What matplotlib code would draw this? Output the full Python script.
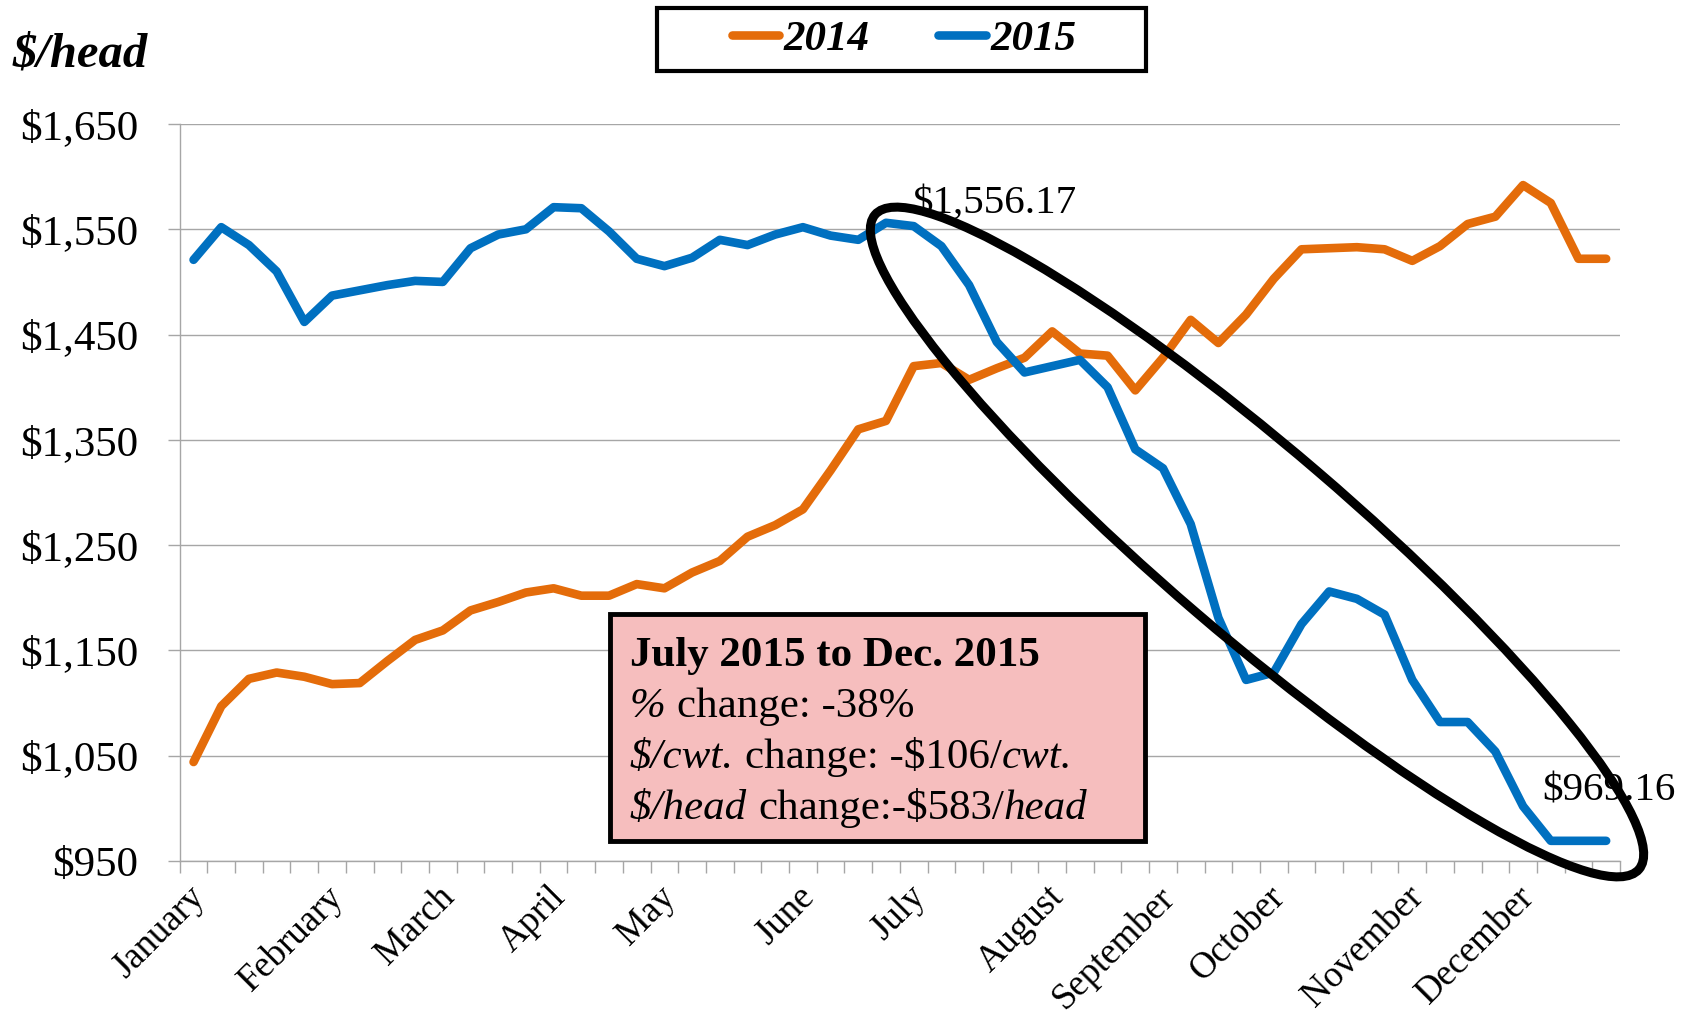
import matplotlib
matplotlib.use("Agg")
import matplotlib.pyplot as plt
import matplotlib.transforms as mtransforms
from matplotlib.patches import Ellipse, Rectangle
from matplotlib.lines import Line2D
import numpy as np

# ---------------- data ----------------
months = ["January", "February", "March", "April", "May", "June", "July",
          "August", "September", "October", "November", "December"]
month_week_index = [0, 5, 9, 13, 17, 22, 26, 31, 35, 39, 44, 48]
series_names = ["2014", "2015"]

price_2014 = [1044, 1097, 1123, 1129, 1125, 1118, 1119, 1140, 1160, 1169,
              1188, 1196, 1205, 1209, 1202, 1202, 1213, 1209, 1224, 1235,
              1258, 1269, 1284, 1321, 1360, 1368, 1420, 1423, 1407, 1418,
              1428, 1453, 1432, 1430, 1397, 1428, 1464, 1442, 1469, 1503,
              1531, 1532, 1533, 1531, 1520, 1534, 1555, 1562, 1592, 1575,
              1522, 1522]
price_2015 = [1521, 1552, 1535, 1510, 1462, 1487, 1492, 1497, 1501, 1500,
              1532, 1545, 1550, 1571, 1570, 1548, 1522, 1515, 1523, 1540,
              1535, 1545, 1552, 1544, 1540, 1556.17, 1553, 1534, 1497, 1443,
              1414, 1420, 1426, 1400, 1341, 1323, 1270, 1181, 1122, 1129,
              1175, 1206, 1199, 1184, 1122, 1082, 1082, 1054, 1002, 969.16,
              969.16, 969.16]
y_ticks = [950, 1050, 1150, 1250, 1350, 1450, 1550, 1650]
peak_index = 25

box_title = "July 2015 to Dec. 2015"
box_lines = [
    [("%", "italic"), (" change: -38%", "normal")],
    [("$/cwt.", "italic"), (" change: -$106/", "normal"), ("cwt.", "italic")],
    [("$/head", "italic"), (" change:-$583/", "normal"), ("head", "italic")],
]

# ---------------- style ----------------
plt.rcParams["font.family"] = ["Liberation Serif", "DejaVu Serif"]
ORANGE = "#E46C0A"
BLUE = "#0070C0"
GRID = "#A6A6A6"
W, H = 1694, 1024

fig = plt.figure(figsize=(W / 100, H / 100), dpi=100)
# transform in reference-image pixels (origin top-left)
T = mtransforms.Affine2D().scale(1 / 100, -1 / 100).translate(0, H / 100) + fig.dpi_scale_trans

L, R, TOP, BOT = 179.7, 1620, 124, 861
ax = fig.add_axes([L / W, 1 - BOT / H, (R - L) / W, (BOT - TOP) / H])

x = np.arange(len(price_2014))
line_kw = dict(lw=6.2, solid_joinstyle="round", solid_capstyle="round")
ax.plot(x, price_2014, color=ORANGE, zorder=3, **line_kw)
ax.plot(x, price_2015, color=BLUE, zorder=3, **line_kw)

ax.set_xlim(-0.5, len(x) - 0.5)
ax.set_ylim(y_ticks[0], y_ticks[-1])
ax.set_yticks(y_ticks)
ax.set_yticklabels([f"${v:,}" for v in y_ticks])
ax.yaxis.grid(True, color=GRID, lw=1.0)
ax.set_axisbelow(True)
for s in ["top", "right"]:
    ax.spines[s].set_visible(False)
for s in ["left", "bottom"]:
    ax.spines[s].set_color(GRID)
    ax.spines[s].set_linewidth(1.0)

ax.tick_params(axis="y", length=8.6, width=1, color=GRID, pad=21.5, labelsize=31)

labels = [""] * len(x)
for m, i in zip(months, month_week_index):
    labels[i] = m
ax.set_xticks(x)
ax.set_xticklabels(labels, rotation=45, ha="right", va="top", rotation_mode="anchor", fontsize=26.5)
ax.set_xticks(np.arange(-0.5, len(x), 1.0), minor=True)
ax.tick_params(axis="x", which="major", length=0, pad=13.5)
ax.tick_params(axis="x", which="minor", length=8.6, width=1, color=GRID)
shift = mtransforms.ScaledTranslation(-6 / 100, 0, fig.dpi_scale_trans)
for lab in ax.get_xticklabels():
    lab.set_transform(lab.get_transform() + shift)

# data labels
ax.annotate(f"${price_2015[peak_index]:,.2f}", xy=(peak_index, price_2015[peak_index]),
            xytext=(26 * 0.72, 10 * 0.72), textcoords="offset points",
            ha="left", va="baseline", fontsize=29.5, zorder=4)
ax.annotate(f"${price_2015[-1]:,.2f}", xy=(len(x) - 1, price_2015[-1]),
            xytext=(3 * 0.72, 40 * 0.72), textcoords="offset points",
            ha="center", va="baseline", fontsize=29.5, zorder=4, annotation_clip=False)

# y-axis title
fig.text(13, 67, "$/head", transform=T, ha="left", va="baseline",
         fontsize=35, fontweight="bold", fontstyle="italic")

# legend
handles = [Line2D([], [], color=ORANGE, **line_kw), Line2D([], [], color=BLUE, **line_kw)]
fig.legend(handles, series_names, loc="center", bbox_to_anchor=(904, 39), bbox_transform=T,
           ncol=2, frameon=False, prop=dict(weight="bold", style="italic", size=31),
           handlelength=1.1, handletextpad=0.1, columnspacing=1.6)
fig.add_artist(Rectangle((657, 8), 489, 63, transform=T, fill=False, ec="black", lw=3, zorder=5))

# annotation box
fig.add_artist(Rectangle((610, 614), 535, 227, transform=T, fc="#F6BEBE", ec="black",
                         lw=3.5, zorder=5))
renderer = fig.canvas.get_renderer()
BOX_FS = 31


def text_width(s, style, weight):
    t = fig.text(0, 0, s, fontsize=BOX_FS, fontstyle=style, fontweight=weight)
    w = t.get_window_extent(renderer).width
    t.remove()
    return w


def draw_runs(x0, y0, runs):
    xx = x0
    for s, style in runs:
        weight = "normal"
        sp = text_width("n n", style, weight) - text_width("nn", style, weight)
        lead = len(s) - len(s.lstrip(" "))
        trail = len(s) - len(s.rstrip(" "))
        core = s.strip(" ")
        xx += lead * sp
        t = fig.text(xx, y0, core, transform=T, fontsize=BOX_FS, fontstyle=style, fontweight=weight,
                     ha="left", va="baseline", zorder=6)
        xx += t.get_window_extent(renderer).width + trail * sp


fig.text(630, 666, box_title, transform=T, fontsize=BOX_FS, fontweight="bold",
         ha="left", va="baseline", zorder=6)
for k, runs in enumerate(box_lines):
    draw_runs(630, 717 + 51 * k, runs)

# highlight ellipse
fig.add_artist(Ellipse((1257, 542), width=1006, height=186, angle=40.6, transform=T,
                       fill=False, ec="black", lw=6.5, zorder=7))

fig.savefig("out.png", dpi=100)
